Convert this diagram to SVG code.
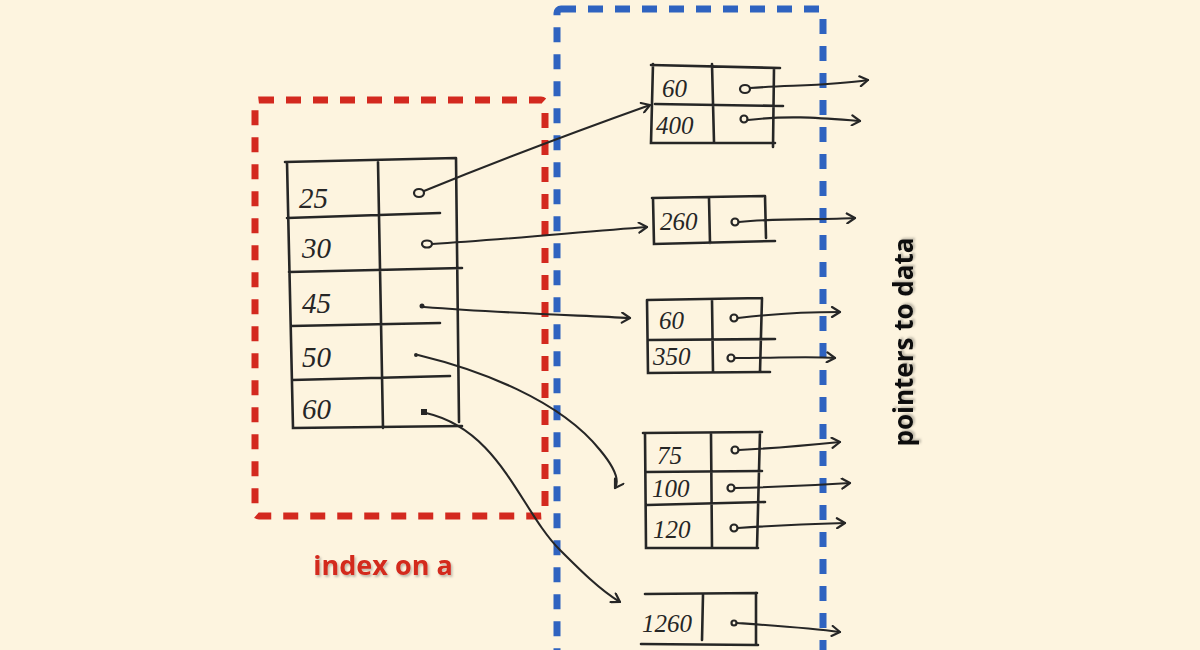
<svg xmlns="http://www.w3.org/2000/svg" width="1200" height="650" viewBox="0 0 1200 650">
<defs>
<marker id="arr" viewBox="0 0 12 12" refX="10" refY="6" markerWidth="12" markerHeight="12" markerUnits="userSpaceOnUse" orient="auto">
<path d="M2,1 L10,6 L2,11" fill="none" stroke="#262626" stroke-width="2.2" stroke-linecap="round" stroke-linejoin="round"/>
</marker>
<filter id="sh" x="-10%" y="-30%" width="120%" height="160%">
<feDropShadow dx="1.5" dy="2" stdDeviation="1" flood-color="#000" flood-opacity="0.25"/>
</filter>
</defs>
<style>
.cell{fill:none;stroke:#262626;stroke-width:2.6;stroke-linecap:round}
.hw{font-family:"Liberation Serif",serif;font-style:italic;font-size:29px;fill:#262626}
.hws{font-family:"Liberation Serif",serif;font-style:italic;font-size:25px;fill:#262626}
.dot{fill:none;stroke:#262626;stroke-width:2.2}
.wire{fill:none;stroke:#262626;stroke-width:2.1;stroke-linecap:round}
.lbl{font-family:"Open Sans","Liberation Sans",sans-serif;font-weight:bold}
</style>
<rect width="1200" height="650" fill="#fdf4df"/>

<g id="index-box">
<rect x="255" y="100" width="290" height="416" rx="4" fill="none" stroke="#d3291f" stroke-width="7" stroke-dasharray="15 12"/>
</g>
<g id="data-box">
<rect x="557" y="9" width="266" height="660" rx="4" fill="none" stroke="#2f63c0" stroke-width="7" stroke-dasharray="15 12"/>
</g>

<g id="index-table">
<path class="cell" d="M285,162 L456,158 M287,162 L293,428 L462,426 M456,158 L459,422 M378,162 L383,428 M287,218 L440,213 M289,272 L462,268 M291,326 L440,323 M292,380 L450,376"/>
<text class="hw" x="299" y="208">25</text>
<text class="hw" x="302" y="258">30</text>
<text class="hw" x="302" y="313">45</text>
<text class="hw" x="302" y="367">50</text>
<text class="hw" x="302" y="419">60</text>
<ellipse class="dot" cx="419" cy="193" rx="5" ry="4"/>
<ellipse class="dot" cx="427" cy="244" rx="5" ry="3.5"/>
<circle cx="422" cy="306" r="2.5" fill="#262626"/>
<circle cx="416" cy="355" r="2" fill="#262626"/>
<rect x="421" y="409" width="6" height="6" fill="#262626"/>
</g>

<g id="node-60-400">
<path class="cell" d="M651,65 L780,68 M653,64 L651,143 L775,143 M774,68 L773,147 M712,64 L714,142 M655,104 L783,106"/>
<text class="hws" x="662" y="97">60</text>
<text class="hws" x="656" y="134">400</text>
<ellipse class="dot" cx="745" cy="89" rx="5" ry="4"/>
<circle class="dot" cx="744" cy="119" r="3.5"/>
</g>
<g id="node-260">
<path class="cell" d="M652,198 L765,196 M653,198 L654,244 L775,241 M765,196 L766,238 M709,198 L710,243"/>
<text class="hws" x="660" y="230">260</text>
<circle class="dot" cx="735" cy="222" r="3.5"/>
</g>
<g id="node-60-350">
<path class="cell" d="M647,300 L762,298 M647,300 L648,373 L770,372 M762,298 L760,372 M712,300 L713,372 M648,340 L775,339"/>
<text class="hws" x="659" y="329">60</text>
<text class="hws" x="653" y="365">350</text>
<circle class="dot" cx="734" cy="318" r="3.5"/>
<circle class="dot" cx="731" cy="358" r="3.5"/>
</g>
<g id="node-75-100-120">
<path class="cell" d="M643,433 L762,432 M645,433 L646,548 L758,548 M760,432 L757,548 M711,434 L712,548 M646,472 L762,471 M647,505 L765,502"/>
<text class="hws" x="657" y="464">75</text>
<text class="hws" x="652" y="497">100</text>
<text class="hws" x="653" y="538">120</text>
<circle class="dot" cx="735" cy="450" r="3.5"/>
<circle class="dot" cx="731" cy="488" r="3.5"/>
<circle class="dot" cx="734" cy="528" r="3.5"/>
</g>
<g id="node-1260">
<path class="cell" d="M645,594 L757,593 M641,644 L758,645 M756,593 L756,645 M703,595 L702,640"/>
<text class="hws" x="642" y="632">1260</text>
<circle class="dot" cx="734" cy="623" r="2.5"/>
</g>

<g id="connectors">
<path class="wire" marker-end="url(#arr)" d="M424,191 C500,160 580,130 650,105"/>
<path class="wire" marker-end="url(#arr)" d="M432,244 C500,240 580,232 647,227"/>
<path class="wire" marker-end="url(#arr)" d="M424,307 C500,313 570,315 630,318"/>
<path class="wire" marker-end="url(#arr)" d="M418,355 C480,370 560,400 600,450 C615,468 620,480 615,488"/>
<path class="wire" marker-end="url(#arr)" d="M426,413 C500,430 520,510 560,550 C580,570 600,590 620,602"/>
<path class="wire" marker-end="url(#arr)" d="M750,88 C790,85 830,86 868,80"/>
<path class="wire" marker-end="url(#arr)" d="M748,120 C790,115 820,118 860,121"/>
<path class="wire" marker-end="url(#arr)" d="M739,222 C780,218 820,220 855,218"/>
<path class="wire" marker-end="url(#arr)" d="M738,318 C780,313 810,312 840,312"/>
<path class="wire" marker-end="url(#arr)" d="M735,358 C780,358 810,356 835,358"/>
<path class="wire" marker-end="url(#arr)" d="M739,450 C780,448 810,445 840,442"/>
<path class="wire" marker-end="url(#arr)" d="M735,488 C780,487 820,485 850,483"/>
<path class="wire" marker-end="url(#arr)" d="M738,528 C780,525 810,524 845,523"/>
<path class="wire" marker-end="url(#arr)" d="M737,623 C780,626 810,628 840,632"/>
</g>

<text class="lbl" x="383" y="575" font-size="27" fill="#d3291f" text-anchor="middle" filter="url(#sh)">index on a</text>
<text class="lbl" transform="translate(913,342) rotate(-90)" font-size="26" fill="#111" text-anchor="middle" filter="url(#sh)">pointers to data</text>
</svg>
